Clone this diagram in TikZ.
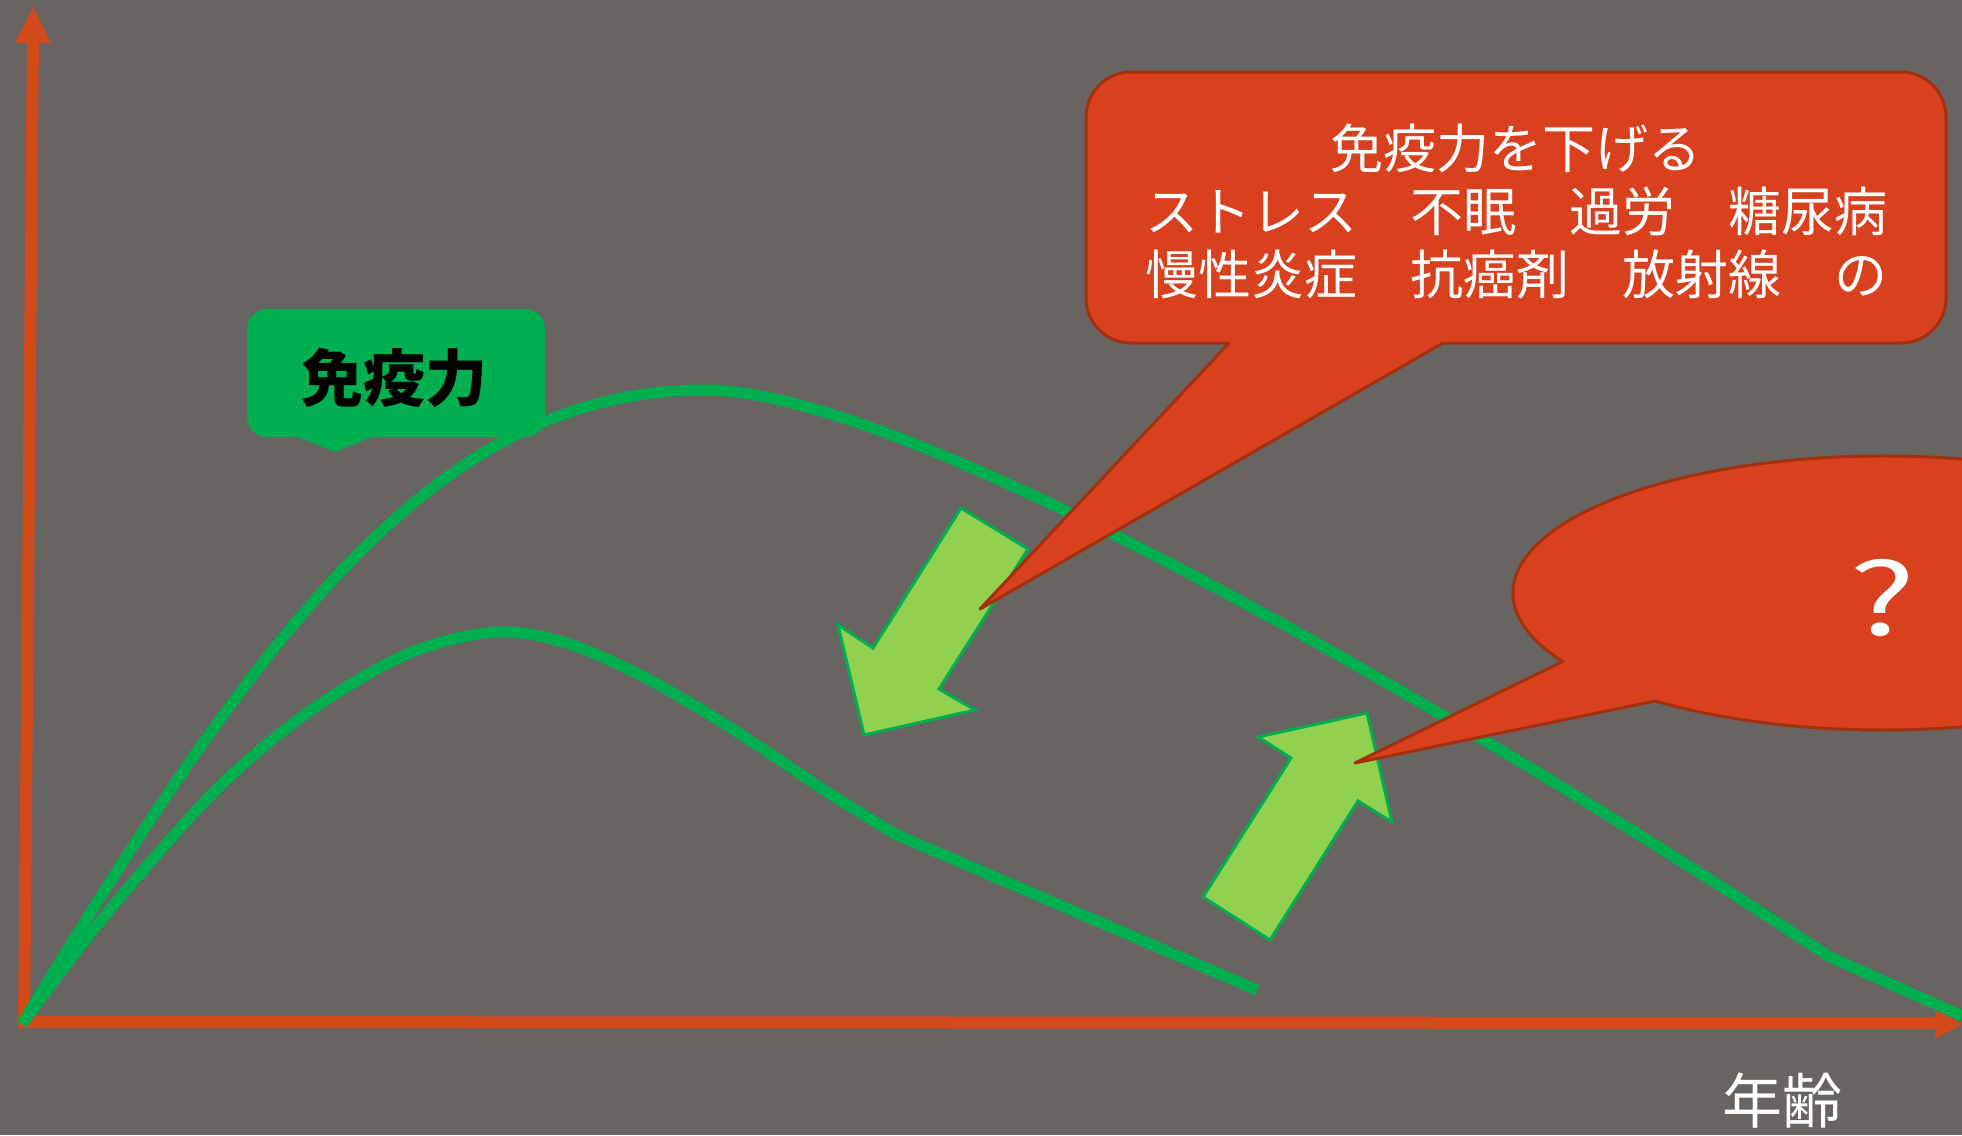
\documentclass[tikz,border=0pt]{standalone}
\usepackage{fontspec}
\newfontfamily\jp{Noto Sans CJK JP}
\definecolor{bg}{HTML}{686462}
\definecolor{axiscol}{HTML}{D24A19}
\definecolor{curvecol}{HTML}{00B050}
\definecolor{lgreen}{HTML}{92D050}
\definecolor{redfill}{HTML}{D9411E}
\definecolor{redline}{HTML}{A3300F}
\begin{document}
\begin{tikzpicture}[x=1pt,y=-1pt,
  curveline/.style={draw=curvecol, line width=11pt, line cap=butt},
  bigarrow/.style={fill=lgreen, draw=curvecol, line width=3pt, line join=miter},
  redcallout/.style={fill=redfill, draw=redline, line width=3pt, line join=round},
  axisline/.style={draw=axiscol, line width=12pt},
  axishead/.style={fill=axiscol},
  lbl/.style={font=\jp, inner sep=0pt}]
\useasboundingbox (0,0) rectangle (1962,1135);
\clip (0,0) rectangle (1962,1135);
\fill[bg] (0,0) rectangle (1962,1135);
% axes
\coordinate (ybot) at (24,1028);
\coordinate (ytop) at (33,40);
\coordinate (xleft) at (18,1022);
\coordinate (xright) at (1937,1023);
\draw[axisline] (ybot) -- (ytop);
\fill[axishead] (33,7) -- (15,43) -- (51,43) -- cycle;
\draw[axisline] (xleft) -- (xright);
\fill[axishead] (1962,1024) -- (1935,1009) -- (1935,1039) -- cycle;
% curves
\coordinate (origin) at (22,1024);
\coordinate (peakA) at (705,390);
\coordinate (kinkA) at (1830,957);
\coordinate (endA) at (1962,1016);
\draw[curveline] (origin) .. controls (272,611) and (445,390) .. (peakA)
  .. controls (905,390) and (1430,695) .. (kinkA) -- (endA);
\draw[curveline] plot[smooth, tension=0.6] coordinates {(22,1024) (87,938) (153,859) (220,786) (287,728) (353,683) (420,649) (497,632) (563,642) (630,670) (697,707) (763,749) (830,794) (897,835)} -- (1257,990);
% green callout
\fill[curvecol, rounded corners=20pt] (247,309) rectangle (545,437);
\fill[curvecol] (295,436) -- (335,452) -- (374,436) -- cycle;
\node[lbl, text=black, font=\jp\bfseries\fontsize{62}{62}\selectfont] (menekiryoku) at (394,378) {免疫力};
% green arrows
\path[bigarrow] (961,508) -- (1028,549) -- (939,689) -- (975,710) -- (864,735) -- (838,625) -- (873,648) -- cycle;
\path[bigarrow] (1203,897) -- (1270,940) -- (1358,801) -- (1392,822) -- (1367,713) -- (1258,737) -- (1291,758) -- cycle;
% red callout 1
\path[redcallout] (1229,343) -- (1131,343) arc[start angle=90, end angle=180, radius=45]
  -- (1086,117) arc[start angle=180, end angle=270, radius=45]
  -- (1901,72) arc[start angle=270, end angle=360, radius=45]
  -- (1946,298) arc[start angle=0, end angle=90, radius=45]
  -- (1443,343) -- (980,609) -- cycle;
\node[lbl, text=white, align=center, font=\jp\fontsize{53}{63}\selectfont] (causes) at (1516,211)
  {免疫力を下げる\\ストレス　不眠　過労　糖尿病\\慢性炎症　抗癌剤　放射線　の};
% red callout 2
\path[redcallout] (1655,701) -- (1355,763) -- (1562.6,661.5)
  arc[start angle=150, end angle=488, x radius=370, y radius=137] -- cycle;
\node[lbl, text=white, font=\jp\fontsize{100}{100}\selectfont, xscale=1.4] (question) at (1883,598) {?};
% x label
\node[lbl, text=white, font=\jp\fontsize{60}{60}\selectfont] (age) at (1782,1101) {年齢};
\end{tikzpicture}
\end{document}
